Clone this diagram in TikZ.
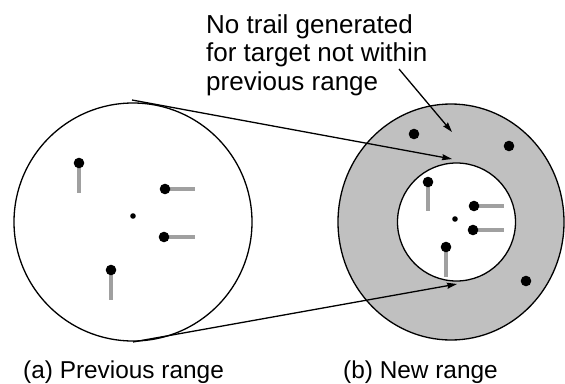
\documentclass[tikz,border=0pt]{standalone}
\usepackage{fontspec}
\setmainfont{Liberation Sans}
\usetikzlibrary{arrows.meta}
\definecolor{ringgray}{HTML}{C0C0C0}
\definecolor{trailgray}{HTML}{A0A0A0}
\newcommand{\tgt}[3]{\coordinate (#1) at (#2); \draw[trail] (#1) -- ++(#3); \fill (#1) circle (5.3pt);}
\tikzset{rng/.style={line width=1.3pt},
  trail/.style={trailgray,line width=3.8pt},
  arr/.style={line width=1.3pt,-{Stealth[length=10pt,width=6pt,inset=1pt]}}}

\begin{document}
\begin{tikzpicture}[x=1pt,y=-1pt]
\useasboundingbox (0,0) rectangle (565,383);
% (a) previous range
\draw[rng] (133,222) circle (119pt);
\tgt{pa}{79,163}{0,30} \tgt{pb}{165,189}{30,0} \tgt{pc}{164,237}{31,0} \tgt{pd}{111,270}{0,30}
\fill (133,216) circle (2.8pt);
% (b) new range
\draw[rng,fill=ringgray] (451,222) ellipse [x radius=113pt,y radius=118pt];
\draw[rng,fill=white] (456.5,222) circle (59pt);
\tgt{na}{428,182}{0,29} \tgt{nb}{474,206}{30,0} \tgt{nc}{473,230}{31,0} \tgt{nd}{446,247}{0,30}
\fill (455,219) circle (2.8pt);
\fill (414,134) circle (5.3pt); \fill (509,146) circle (5.3pt); \fill (526,281) circle (5.3pt);
% zoom lines
\coordinate (ptop) at (132,100); \coordinate (pbot) at (133,342);
\coordinate (ntop) at (452,159); \coordinate (nbot) at (457,284);
\draw[arr] (ptop) -- (ntop); \draw[arr] (pbot) -- (nbot);
% note
\node[anchor=base west,align=left,inner sep=0,font=\fontsize{26}{28.5}\selectfont] (note) at (206,90) {No trail generated\\for target not within\\previous range};
\coordinate (nfrom) at (399,69); \coordinate (nto) at (452,132);
\draw[arr] (nfrom) -- (nto);
\node[anchor=base west,inner sep=0,font=\fontsize{24.4}{28}\selectfont] (capa) at (23,378) {(a) Previous range};
\node[anchor=base west,inner sep=0,font=\fontsize{24.4}{28}\selectfont] (capb) at (343,378) {(b) New range};
\end{tikzpicture}
\end{document}
